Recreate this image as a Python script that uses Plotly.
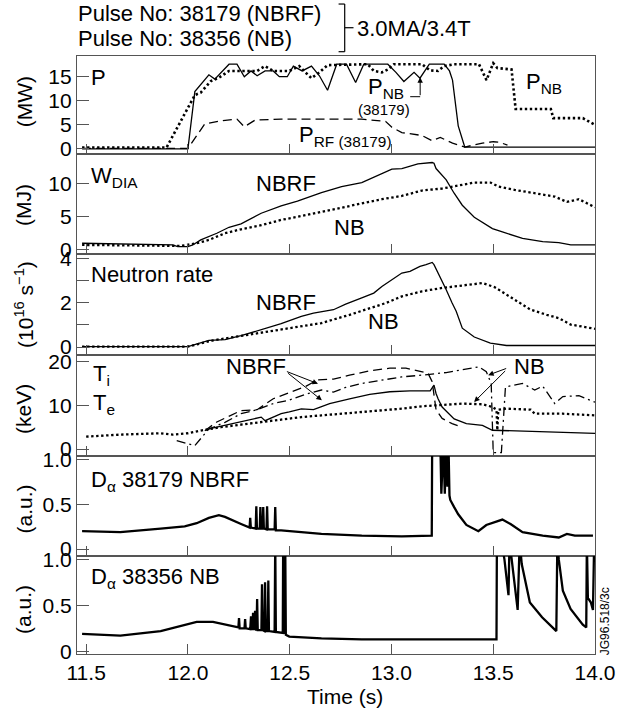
import plotly.graph_objects as go

FONT = "Liberation Sans, Arial, Helvetica, sans-serif"
INK = "black"
FRAME = "#555555"

# ---------------- Panel 1: heating power (MW) ----------------
t_pnb_38179 = [11.48, 12.0, 12.034, 12.063, 12.103, 12.132, 12.202, 12.241, 12.277, 12.310,
               12.340, 12.379, 12.419, 12.449, 12.488, 12.518, 12.561, 12.607, 12.646, 12.686,
               12.731, 12.779, 12.824, 12.864, 12.903, 12.982, 13.022, 13.061, 13.111, 13.140,
               13.186, 13.259, 13.285, 13.300, 13.328, 13.360, 14.0]
p_nb_38179 = [0.0, 0.0, 11.9, 13.4, 15.4, 14.5, 17.6, 17.6, 15.0, 16.2,
              15.2, 16.2, 16.2, 15.0, 15.0, 17.2, 16.2, 17.2, 15.2, 12.2,
              17.6, 17.6, 13.8, 17.6, 17.6, 17.6, 15.9, 14.0, 15.9, 14.7,
              17.6, 17.6, 16.2, 14.3, 4.8, 0.4, 0.4]

t_pnb_38356 = [11.48, 11.895, 12.034, 12.063, 12.113, 12.152, 12.202, 12.261, 12.340, 12.379,
               12.419, 12.498, 12.547, 12.577, 12.607, 12.646, 12.686, 12.883, 12.913, 12.953,
               12.982, 13.012, 13.150, 13.190, 13.229, 13.259, 13.308, 13.430, 13.467, 13.500,
               13.520, 13.590, 13.610, 13.783, 13.795, 13.940, 14.0]
p_nb_38356 = [0.3, 0.3, 11.2, 11.7, 14.1, 14.8, 16.2, 16.2, 16.2, 17.2,
              16.2, 16.2, 17.2, 15.9, 14.7, 15.9, 17.4, 17.6, 16.2, 15.9,
              16.5, 17.6, 17.6, 16.3, 16.2, 17.2, 17.6, 17.6, 14.3, 17.8,
              16.8, 16.5, 8.3, 8.3, 6.4, 6.4, 5.0]

t_prf_38179 = [11.48, 12.0, 12.083, 12.172, 12.241, 12.277, 12.330, 12.458, 12.854, 12.972,
               13.002, 13.051, 13.150, 13.200, 13.240, 13.300, 13.360, 13.447, 13.500, 13.530,
               13.570]
p_rf_38179 = [0.1, 0.1, 5.2, 5.9, 6.2, 4.6, 6.0, 6.2, 6.2, 5.7,
              4.5, 3.4, 2.8, 1.7, 2.4, 1.2, 0.4, 1.2, 1.5, 1.4,
              0.8]

# ---------------- Panel 2: diamagnetic energy (MJ) ----------------
t_w_nbrf = [11.48, 11.925, 11.95, 12.0, 12.024, 12.063, 12.142, 12.202, 12.261, 12.360,
            12.458, 12.538, 12.656, 12.755, 12.854, 12.953, 13.002, 13.051, 13.130, 13.200,
            13.209, 13.219, 13.249, 13.269, 13.308, 13.348, 13.407, 13.496, 13.545, 13.644,
            13.743, 13.822, 13.881, 14.0]
w_nbrf = [1.0, 0.75, 0.5, 0.5, 0.75, 1.5, 2.5, 3.4, 3.9, 5.5,
          6.6, 7.3, 8.6, 9.5, 10.1, 11.5, 12.1, 12.2, 12.9, 13.1,
          13.0, 12.2, 11.2, 10.5, 8.5, 6.7, 4.9, 3.2, 2.7, 1.75,
          1.25, 1.1, 0.75, 0.75]

t_w_nb = [11.48, 11.964, 12.043, 12.103, 12.182, 12.261, 12.360, 12.458, 12.577, 12.656,
          12.755, 12.854, 12.953, 13.051, 13.150, 13.249, 13.348, 13.407, 13.486, 13.526,
          13.605, 13.704, 13.802, 13.862, 13.921, 14.0]
w_nb = [0.75, 0.6, 1.0, 1.5, 2.5, 3.1, 3.7, 4.5, 5.2, 5.7,
        6.4, 7.0, 7.6, 8.1, 8.9, 9.2, 9.7, 10.1, 10.1, 9.5,
        9.0, 8.5, 8.0, 7.2, 7.6, 6.4]

# ---------------- Panel 3: neutron rate (1e16 /s) ----------------
t_n_nbrf = [11.48, 12.0, 12.103, 12.182, 12.261, 12.360, 12.458, 12.557, 12.617, 12.715,
            12.775, 12.854, 12.913, 12.953, 13.002, 13.051, 13.091, 13.140, 13.170, 13.200,
            13.209, 13.239, 13.269, 13.298, 13.318, 13.348, 13.407, 13.486, 13.565, 14.0]
n_nbrf = [0.02, 0.02, 0.30, 0.33, 0.51, 0.78, 1.05, 1.38, 1.53, 1.68,
          1.93, 2.21, 2.43, 2.73, 3.03, 3.33, 3.41, 3.63, 3.71, 3.81,
          3.71, 3.18, 2.58, 1.98, 1.61, 0.85, 0.45, 0.18, 0.07, 0.07]

t_n_nb = [11.48, 12.0, 12.123, 12.261, 12.458, 12.656, 12.794, 12.913, 12.972, 13.051,
          13.150, 13.249, 13.348, 13.447, 13.506, 13.605, 13.684, 13.763, 13.822, 13.881,
          13.941, 14.0]
n_nb = [0.02, 0.02, 0.30, 0.51, 0.81, 1.08, 1.45, 1.80, 1.98, 2.28,
        2.51, 2.66, 2.76, 2.88, 2.70, 2.13, 1.68, 1.45, 1.30, 1.01,
        0.93, 0.82]

# ---------------- Panel 4: temperatures (keV) ----------------
t_te_nb = [11.5, 11.668, 11.866, 11.925, 12.0, 12.063, 12.162, 12.261, 12.360, 12.458,
           12.557, 12.656, 12.755, 12.854, 12.953, 13.051, 13.150, 13.249, 13.348, 13.447,
           13.496, 13.516, 13.520, 13.525, 13.565, 13.684, 13.704, 13.842, 14.0]
te_nb = [2.84, 3.3, 3.61, 3.3, 3.61, 4.23, 5.0, 5.61, 6.16, 6.70,
         7.31, 7.70, 8.08, 8.47, 8.85, 9.24, 9.78, 10.16, 10.39, 10.24,
         9.63, 9.0, 4.3, 9.0, 9.24, 9.0, 8.08, 8.08, 7.70]

t_ti_nbrf = [12.083, 12.142, 12.261, 12.340, 12.419, 12.498, 12.577, 12.636, 12.715, 12.794,
             12.893, 12.992, 13.071, 13.130, 13.180, 13.200, 13.219, 13.249, 13.298, 13.330]
ti_nbrf = [4.2, 6.2, 8.8, 9.0, 11.5, 12.9, 14.3, 15.8, 16.0, 16.9,
           17.9, 18.5, 18.5, 17.9, 17.3, 15.4, 9.0, 7.0, 5.8, 5.3]

t_te_nbrf = [12.103, 12.182, 12.261, 12.360, 12.379, 12.458, 12.498, 12.557, 12.617, 12.696,
             12.794, 12.893, 12.992, 13.091, 13.190, 13.209, 13.219, 13.229, 13.249, 13.308,
             13.368, 13.447, 13.496, 13.644, 14.0]
te_nbrf = [4.6, 5.4, 6.2, 7.3, 6.5, 8.1, 8.5, 9.2, 9.0, 10.4,
           11.5, 12.5, 13.1, 13.3, 13.3, 14.6, 12.7, 11.5, 9.6, 6.9,
           5.8, 5.4, 4.3, 4.1, 3.6]

t_ti_nb = [11.945, 12.034, 12.103, 12.182, 12.261, 12.340, 12.419, 12.498, 12.577, 12.656,
           12.715, 12.775, 12.854, 12.953, 13.051, 13.150, 13.269, 13.430, 13.466, 13.490,
           13.500, 13.540, 13.560, 13.644, 13.704, 13.743, 13.802, 13.842, 13.921, 14.0]
ti_nb = [1.9, 0.8, 4.6, 6.1, 8.1, 9.0, 10.4, 11.2, 12.5, 13.5,
         13.0, 14.1, 15.0, 15.8, 16.5, 16.9, 17.5, 18.8, 17.7, 15.0,
         -0.8, -0.8, 14.2, 15.0, 13.5, 14.4, 10.4, 12.0, 12.2, 10.7]

# ---------------- Panel 5: D-alpha, pulse 38179 (a.u.) ----------------
t_da_38179 = [11.48, 11.668, 11.866, 11.984, 12.043, 12.103, 12.152, 12.182, 12.261, 12.300,
              12.303, 12.306, 12.309, 12.333, 12.336, 12.339, 12.353, 12.356, 12.359, 12.367,
              12.370, 12.373, 12.386, 12.389, 12.392, 12.426, 12.429, 12.432, 12.458, 12.656,
              12.854, 13.051, 13.190, 13.198, 13.200, 13.240, 13.245, 13.255, 13.262, 13.269,
              13.275, 13.280, 13.285, 13.289, 13.308, 13.328, 13.368, 13.427, 13.466, 13.506,
              13.545, 13.585, 13.644, 13.743, 13.822, 13.862, 13.901, 13.990]
da_38179 = [0.20, 0.19, 0.23, 0.255, 0.29, 0.35, 0.38, 0.36, 0.28, 0.24,
            0.24, 0.35, 0.24, 0.23, 0.48, 0.23, 0.23, 0.47, 0.23, 0.23,
            0.47, 0.23, 0.22, 0.48, 0.22, 0.22, 0.47, 0.21, 0.21, 0.17,
            0.15, 0.142, 0.15, 0.15, 1.2, 1.2, 0.62, 1.2, 0.62, 1.2,
            0.70, 1.2, 0.60, 0.55, 0.47, 0.39, 0.27, 0.20, 0.27, 0.30,
            0.33, 0.28, 0.19, 0.15, 0.13, 0.17, 0.15, 0.15]

# ---------------- Panel 6: D-alpha, pulse 38356 (a.u.) ----------------
t_da_38356 = [11.48, 11.668, 11.866, 11.984, 12.043, 12.123, 12.182, 12.248, 12.251, 12.254,
              12.278, 12.281, 12.284, 12.306, 12.310, 12.313, 12.317, 12.320, 12.323, 12.327,
              12.330, 12.333, 12.337, 12.340, 12.343, 12.361, 12.364, 12.367, 12.376, 12.379,
              12.382, 12.392, 12.395, 12.398, 12.426, 12.429, 12.432, 12.466, 12.468, 12.471,
              12.476, 12.478, 12.481, 12.498, 12.656, 12.854, 13.051, 13.300, 13.516, 13.518,
              13.540, 13.555, 13.575, 13.580, 13.590, 13.620, 13.630, 13.640, 13.680, 13.740,
              13.810, 13.815, 13.822, 13.842, 13.880, 13.940, 13.957, 13.960, 13.965, 13.980,
              13.990, 13.996, 14.0]
da_38356 = [0.19, 0.17, 0.22, 0.29, 0.32, 0.32, 0.29, 0.26, 0.36, 0.25,
            0.25, 0.35, 0.25, 0.24, 0.38, 0.24, 0.24, 0.42, 0.24, 0.24,
            0.44, 0.24, 0.23, 0.57, 0.23, 0.23, 0.73, 0.23, 0.22, 0.75,
            0.22, 0.22, 0.77, 0.22, 0.21, 1.2, 0.21, 0.20, 1.2, 0.20,
            0.20, 1.2, 0.18, 0.16, 0.14, 0.13, 0.13, 0.13, 0.13, 1.2,
            1.2, 1.0, 0.61, 1.2, 1.0, 0.45, 1.2, 0.95, 0.53, 0.37,
            0.22, 1.2, 1.0, 0.66, 0.46, 0.29, 0.26, 1.2, 0.58, 0.53,
            0.45, 1.2, 1.2]

# ---------------- axis settings ----------------
X_RANGE = [11.455, 14.0]
X_TICKS = [11.5, 12.0, 12.5, 13.0, 13.5, 14.0]
X_TICKTEXT = ["11.5", "12.0", "12.5", "13.0", "13.5", "14.0"]

domains = [[0.8357, 1.0], [0.6682, 0.8357], [0.5003, 0.6682],
           [0.3314, 0.5003], [0.1643, 0.3314], [0.0, 0.1643]]
y_ranges = [[-1.1, 19.3], [-0.67, 14.34], [-0.35, 4.17],
            [-1.55, 21.55], [-0.075, 1.045], [-0.03, 1.04]]
y_ticks = [[0, 5, 10, 15], [0, 5, 10], [0, 2, 4], [0, 10, 20],
           [0, 0.5, 1.0], [0, 0.5, 1.0]]
y_ticktext = [["0", "5", "10", "15"], ["0", "5", "10"], ["0", "2", "4"],
              ["0", "10", "20"], ["0", "0.5", "1.0"], ["0", "0.5", "1.0"]]
y_titles = ["(MW)", "(MJ)", "(10<sup>16</sup> s<sup>\u22121</sup>)", "(keV)", "(a.u.)", "(a.u.)"]
y_title_pos = [0.923, 0.751, 0.584, 0.410, 0.242, 0.074]

fig = go.Figure()


def line(x, y, panel, dash="solid", width=1.3):
    ax = "" if panel == 1 else str(panel)
    fig.add_trace(go.Scatter(
        x=x, y=y, mode="lines", xaxis="x" + ax, yaxis="y" + ax,
        line=dict(color=INK, width=width, dash=dash),
        showlegend=False, hoverinfo="skip"))


DOT = "2.4px,2.6px"
DASH = "9px,5px"
DASHDOT = "9px,4px,2px,4px"

line(t_pnb_38179, p_nb_38179, 1)
line(t_prf_38179, p_rf_38179, 1, dash=DASH)
line(t_pnb_38356, p_nb_38356, 1, dash=DOT, width=2.6)

line(t_w_nbrf, w_nbrf, 2)
line(t_w_nb, w_nb, 2, dash=DOT, width=2.3)

line(t_n_nbrf, n_nbrf, 3)
line(t_n_nb, n_nb, 3, dash=DOT, width=2.3)

line(t_te_nb, te_nb, 4, dash=DOT, width=2.3)
line(t_ti_nbrf, ti_nbrf, 4, dash=DASH)
line(t_te_nbrf, te_nbrf, 4)
line(t_ti_nb, ti_nb, 4, dash=DASHDOT)

line(t_da_38179, da_38179, 5, width=2.3)
line(t_da_38356, da_38356, 6, width=2.3)

layout = dict(
    width=629, height=713,
    margin=dict(l=77, r=34, t=56, b=59),
    paper_bgcolor="white", plot_bgcolor="white",
    font=dict(family=FONT, size=21, color=INK),
    showlegend=False,
)

for i in range(6):
    n = "" if i == 0 else str(i + 1)
    layout["xaxis" + n] = dict(
        domain=[0, 1], anchor="y" + n, range=X_RANGE,
        tickmode="array", tickvals=X_TICKS, ticktext=X_TICKTEXT,
        ticks="inside", ticklen=10, tickwidth=1.2, tickcolor=FRAME,
        showline=True, linecolor=FRAME, linewidth=1.2, mirror=True,
        showgrid=False, zeroline=False, showticklabels=(i == 5),
        tickfont=dict(size=21),
    )
    yax = dict(
        domain=domains[i], anchor="x" + n, range=y_ranges[i],
        tickmode="array", tickvals=y_ticks[i], ticktext=y_ticktext[i],
        ticks="inside", ticklen=12, tickwidth=1.2, tickcolor=FRAME,
        showline=True, linecolor=FRAME, linewidth=1.2, mirror=True,
        showgrid=False, zeroline=False, tickfont=dict(size=21),
    )
    if i == 2:
        yax["minor"] = dict(tickvals=[1, 3], ticks="inside", ticklen=12,
                            tickwidth=1.2, tickcolor=FRAME, showgrid=False)
    layout["yaxis" + n] = yax

fig.update_layout(**layout)

ann = []


def label(text, x, y, panel, size=22, xanchor="left", yanchor="middle"):
    ax = "" if panel == 1 else str(panel)
    ann.append(dict(text=text, x=x, y=y, xref="x" + ax, yref="y" + ax,
                    showarrow=False, xanchor=xanchor, yanchor=yanchor,
                    font=dict(size=size, color=INK)))


def arrow(x, y, ax_, ay_, panel):
    a = "" if panel == 1 else str(panel)
    ann.append(dict(text="", x=x, y=y, ax=ax_, ay=ay_, xref="x" + a, yref="y" + a,
                    axref="x" + a, ayref="y" + a, showarrow=True, arrowhead=2,
                    arrowsize=1.1, arrowwidth=1, arrowcolor=INK, standoff=0))


# panel texts
label("P", 11.515, 14.9, 1)
label("P<sub>NB</sub>", 12.876, 12.6, 1)
label("(38179)", 12.964, 8.1, 1, size=15, xanchor="center")
label("P<sub>RF (38179)</sub>", 12.538, 2.7, 1)
label("P<sub>NB</sub>", 13.652, 13.6, 1)
arrow(13.141, 14.9, 13.141, 10.85, 1)

label("W<sub>DIA</sub>", 11.515, 11.0, 2)
label("NBRF", 12.323, 10.0, 2)
label("NB", 12.710, 3.3, 2)

label("Neutron rate", 11.515, 3.26, 3)
label("NBRF", 12.323, 2.0, 3)
label("NB", 12.876, 1.14, 3)

label("T<sub>i</sub>", 11.525, 16.9, 4)
label("T<sub>e</sub>", 11.525, 10.2, 4)
label("NBRF", 12.176, 18.8, 4)
label("NB", 13.591, 18.8, 4)
arrow(12.639, 14.94, 12.479, 17.85, 4)
arrow(12.658, 11.15, 12.485, 17.6, 4)
arrow(13.475, 16.9, 13.571, 18.55, 4)
arrow(13.406, 10.76, 13.566, 18.2, 4)

label("D<sub>\u03b1</sub> 38179 NBRF", 11.515, 0.76, 5)
label("D<sub>\u03b1</sub> 38356 NB", 11.515, 0.80, 6)

# y-axis titles
for txt, yp in zip(y_titles, y_title_pos):
    ann.append(dict(text=txt, x=-0.102, y=yp, xref="paper", yref="paper",
                    showarrow=False, textangle=-90, xanchor="center",
                    yanchor="middle", font=dict(size=21, color=INK)))

# x-axis title
ann.append(dict(text="Time (s)", x=0.517, y=-0.0709, xref="paper", yref="paper",
                showarrow=False, xanchor="center", yanchor="middle",
                font=dict(size=21, color=INK)))

# header
ann.append(dict(text="Pulse No: 38179 (NBRF)", x=-0.002, y=1.0714, xref="paper",
                yref="paper", showarrow=False, xanchor="left", yanchor="middle",
                font=dict(size=22, color=INK)))
ann.append(dict(text="Pulse No: 38356 (NB)", x=-0.002, y=1.0296, xref="paper",
                yref="paper", showarrow=False, xanchor="left", yanchor="middle",
                font=dict(size=22, color=INK)))
ann.append(dict(text="3.0MA/3.4T", x=0.5376, y=1.0463, xref="paper",
                yref="paper", showarrow=False, xanchor="left", yanchor="middle",
                font=dict(size=22, color=INK)))
ann.append(dict(text="JG96.518/3c", x=1.0185, y=0.054, xref="paper", yref="paper",
                showarrow=False, textangle=-90, xanchor="center", yanchor="middle",
                font=dict(size=12, color=INK)))

fig.update_layout(annotations=ann)

# bracket beside the pulse numbers and the L-shaped leader of the P_NB label
shapes = [
    dict(type="line", xref="paper", yref="paper", x0=0.5168, x1=0.5168, y0=1.0072, y1=1.0869,
         line=dict(color=INK, width=1.2)),
    dict(type="line", xref="paper", yref="paper", x0=0.505, x1=0.5168, y0=1.0869, y1=1.0869,
         line=dict(color=INK, width=1.2)),
    dict(type="line", xref="paper", yref="paper", x0=0.505, x1=0.5168, y0=1.0072, y1=1.0072,
         line=dict(color=INK, width=1.2)),
    dict(type="line", xref="paper", yref="paper", x0=0.5168, x1=0.5338, y0=1.0473, y1=1.0473,
         line=dict(color=INK, width=1.2)),
    dict(type="line", xref="x", yref="y", x0=13.092, x1=13.141, y0=10.85, y1=10.85,
         line=dict(color=INK, width=1)),
]
fig.update_layout(shapes=shapes)

fig.write_html("out.html")
